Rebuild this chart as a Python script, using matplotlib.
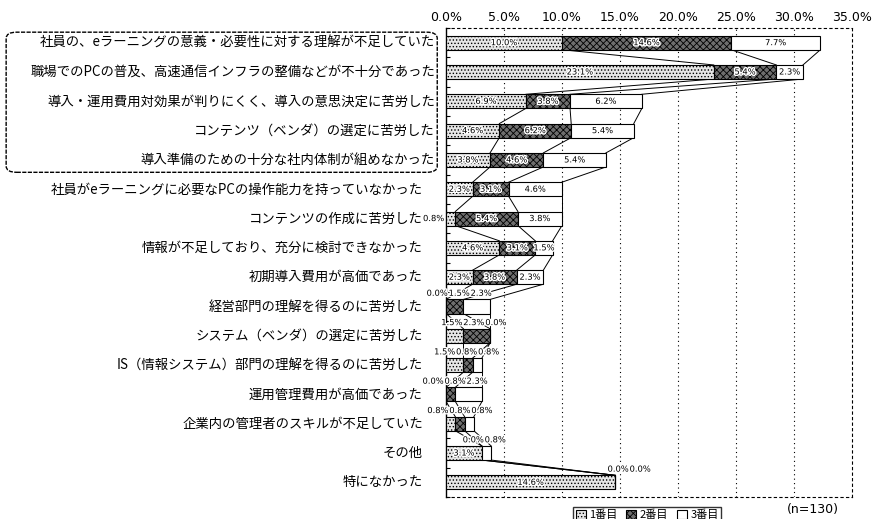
import matplotlib
matplotlib.use("Agg")
import matplotlib.pyplot as plt
import matplotlib.patheffects as pe
import numpy as np
from matplotlib.patches import FancyBboxPatch, Patch

plt.rcParams['font.family'] = ['Noto Sans CJK JP', 'DejaVu Sans']
plt.rcParams['hatch.linewidth'] = 0.6

# data (% of n=130)
categories = [
    '社員の、eラーニングの意義・必要性に対する理解が不足していた',
    '職場でのPCの普及、高速通信インフラの整備などが不十分であった',
    '導入・運用費用対効果が判りにくく、導入の意思決定に苦労した',
    'コンテンツ（ベンダ）の選定に苦労した',
    '導入準備のための十分な社内体制が組めなかった',
    '社員がeラーニングに必要なPCの操作能力を持っていなかった',
    'コンテンツの作成に苦労した',
    '情報が不足しており、充分に検討できなかった',
    '初期導入費用が高価であった',
    '経営部門の理解を得るのに苦労した',
    'システム（ベンダ）の選定に苦労した',
    'IS（情報システム）部門の理解を得るのに苦労した',
    '運用管理費用が高価であった',
    '企業内の管理者のスキルが不足していた',
    'その他',
    '特になかった',
]
first = [10.0, 23.1, 6.9, 4.6, 3.8, 2.3, 0.8, 4.6, 2.3, 0.0, 1.5, 1.5, 0.0, 0.8, 3.1, 14.6]
second = [14.6, 5.4, 3.8, 6.2, 4.6, 3.1, 5.4, 3.1, 3.8, 1.5, 2.3, 0.8, 0.8, 0.8, 0.0, 0.0]
third = [7.7, 2.3, 6.2, 5.4, 5.4, 4.6, 3.8, 1.5, 2.3, 2.3, 0.0, 0.8, 2.3, 0.8, 0.8, 0.0]
series_names = ['1番目', '2番目', '3番目']
xticks = [0, 5, 10, 15, 20, 25, 30, 35]

vals = np.array([first, second, third]).T  # rows x series
n = len(categories)
y = np.arange(n)
h = 0.48

styles = [
    dict(facecolor='#e6e6e6', hatch='.....'),
    dict(facecolor='#6e6e6e', hatch='xxxxx'),
    dict(facecolor='white', hatch=''),
]

fig = plt.figure(figsize=(8.78, 5.19), dpi=100)
ax = fig.add_axes([0.508, 0.0424, 0.462, 0.9036])

left = np.zeros(n)
for j in range(3):
    ax.barh(y, vals[:, j], left=left, height=h, edgecolor='black',
            linewidth=0.8, **styles[j], zorder=3)
    left = left + vals[:, j]

cum = np.cumsum(vals, axis=1)

# series lines between bars
for j in range(3):
    for i in range(n - 1):
        ax.plot([cum[i, j], cum[i + 1, j]], [y[i] + h / 2, y[i + 1] - h / 2],
                color='black', lw=0.7, zorder=2)

# value labels
halo = [pe.withStroke(linewidth=2, foreground='white')]
lab_kw = dict(fontsize=6, family='DejaVu Sans', zorder=5, path_effects=halo)
for i in range(n):
    total = cum[i, -1]
    starts = cum[i] - vals[i]
    centers = starts + vals[i] / 2
    above = []
    for j in range(3):
        v = vals[i, j]
        txt = f'{v:.1f}%'
        if total < 5:
            if v >= 3:
                ax.text(centers[j], y[i], txt, ha='center', va='center', **lab_kw)
            else:
                above.append((centers[j], txt))
        else:
            if v >= 1.0:
                ax.text(centers[j], y[i], txt, ha='center', va='center', **lab_kw)
            elif v > 0:
                ax.text(starts[j] - 0.15, y[i], txt, ha='right', va='center', **lab_kw)
            else:
                above.append((centers[j] + 1.2, txt))
    if above:
        cs = np.array([a[0] for a in above])
        m = cs.mean()
        k = len(above)
        pos = m + (np.arange(k) - (k - 1) / 2) * 1.9
        for p, (_, txt) in zip(pos, above):
            ax.text(p, y[i] - 0.45, txt, ha='center', va='center', **lab_kw)

ax.set_xlim(0, 35)
ax.set_ylim(n - 0.5, -0.5)
ax.xaxis.tick_top()
ax.set_xticks(xticks)
ax.set_xticklabels([f'{t:.1f}%' for t in xticks], fontsize=9, family='DejaVu Sans')
ax.tick_params(axis='x', length=0, pad=3)
ax.set_yticks(np.arange(n + 1) - 0.5)
ax.set_yticklabels([])
ax.tick_params(axis='y', direction='in', length=3, width=0.8)
for t in xticks[1:-1]:
    ax.axvline(t, color='black', lw=0.8, linestyle=(0, (1, 3)), zorder=1)

for s in ['top', 'right', 'bottom']:
    ax.spines[s].set_linestyle((0, (2, 3)))
    ax.spines[s].set_linewidth(0.8)
ax.spines['left'].set_linewidth(1.0)

# category labels
tr = ax.get_yaxis_transform()
for i, c in enumerate(categories):
    xo = -0.027 if i < 5 else -0.057
    ax.text(xo, y[i], c, transform=tr, ha='right', va='center', fontsize=9.6)

# rounded box around first five labels
box = FancyBboxPatch((0.007, 0.668), 0.491, 0.27, transform=fig.transFigure,
                     boxstyle='round,pad=0,rounding_size=0.012', fill=False,
                     edgecolor='black', linewidth=1.0, linestyle=(0, (3, 1)))
fig.patches.append(box)

handles = [Patch(edgecolor='black', linewidth=0.8, **styles[j]) for j in range(3)]
fig.legend(handles, series_names, loc='upper center', bbox_to_anchor=(0.737, 0.033),
           ncol=3, fontsize=8, frameon=True, fancybox=False, edgecolor='black',
           handlelength=0.9, handleheight=0.9, handletextpad=0.3, columnspacing=0.8,
           borderpad=0.2)
fig.text(0.955, 0.019, '(n=130)', ha='right', va='center', fontsize=9, family='DejaVu Sans')

fig.savefig('out.png', dpi=100)
